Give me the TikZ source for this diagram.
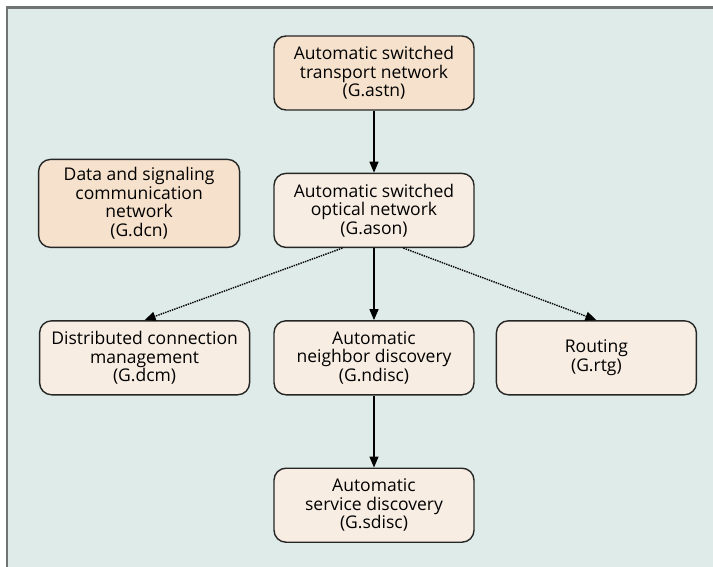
\documentclass[tikz,border=0pt]{standalone}
\usepackage{fontspec}
\setmainfont{Open Sans}
\usepackage{xcolor}
\definecolor{panelbg}{RGB}{223,235,232}
\definecolor{boxlight}{RGB}{248,237,226}
\definecolor{boxdark}{RGB}{246,226,204}
\definecolor{framegray}{RGB}{112,116,114}
\usepackage{tikz}
\usetikzlibrary{arrows.meta, positioning}

\begin{document}
\begin{tikzpicture}[
	x=1pt, y=1pt,
	node distance=62pt and 23pt,
	box/.style={rectangle, draw=black!85, rounded corners=12pt, align=center, minimum width=200pt, minimum height=74pt, font=\fontsize{17.5}{18.5}\selectfont, line width=1.4pt, inner sep=3pt},
	stdbox/.style={box, fill=boxlight},
	mainbox/.style={box, fill=boxdark},
	arr/.style={-{Triangle[length=11pt, width=9pt]}, draw=black, line width=1.4pt},
	arrdot/.style={arr, densely dotted, line width=1.4pt}
	]
	\useasboundingbox (0,0) rectangle (713,-567);
	\fill[panelbg] (7,-8) rectangle (713,-567);
	\draw[framegray, line width=2.2pt] (7,-567) -- (7,-7.5) -- (713,-7.5);

	\node[mainbox] (astn) at (374,-73) {Automatic switched\\transport network\\(G.astn)};
	\node[stdbox, below=of astn] (ason) {Automatic switched\\optical network\\(G.ason)};
	\node[mainbox, minimum width=201pt, minimum height=88pt, above left=0pt and 33pt of ason.south west] (dcn) {Data and signaling\\communication\\network\\(G.dcn)};
	\node[stdbox, below=72pt of ason] (ndisc) {Automatic\\neighbor discovery\\(G.ndisc)};
	\node[stdbox, minimum width=210pt, left=of ndisc] (dcm) {Distributed connection\\management\\(G.dcm)};
	\node[stdbox, right=21pt of ndisc] (rtg) {Routing\\(G.rtg)};
	\node[stdbox, below=72pt of ndisc] (sdisc) {Automatic\\service discovery\\(G.sdisc)};

	\draw[arr] (astn) -- (ason);
	\draw[arr] (ason) -- (ndisc);
	\draw[arr] (ndisc) -- (sdisc);
	\draw[arrdot] (ason.-130) -- (dcm.north);
	\draw[arrdot] (ason.-52) -- (rtg.north);
\end{tikzpicture}
\end{document}
